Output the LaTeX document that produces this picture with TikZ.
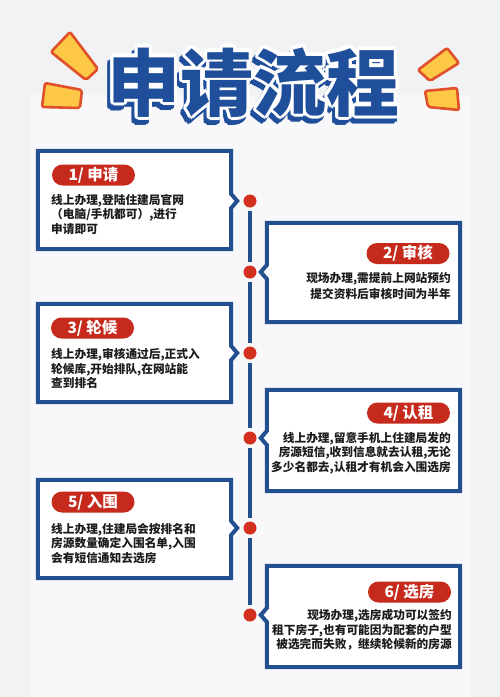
\documentclass[tikz,border=0pt]{standalone}
\usepackage{fontspec}
\newfontfamily\cjk{Noto Sans CJK SC}
\usetikzlibrary{calc}
\definecolor{tblue}{HTML}{1F4E9B}
\definecolor{bblue}{HTML}{22508F}
\definecolor{dotred}{HTML}{D3301F}
\definecolor{pillred}{HTML}{C62A1D}
\definecolor{sunyellow}{HTML}{FCC845}
\definecolor{sunred}{HTML}{E0502A}
\definecolor{bggray}{HTML}{F1F2F4}
\definecolor{panel}{HTML}{F8F8FA}
\definecolor{bodytxt}{HTML}{1C1C1C}
\begin{document}
\begin{tikzpicture}[x=1pt,y=-1pt,
  titletxt/.style={font=\cjk\bfseries\fontsize{73}{73}\selectfont, inner sep=0pt, anchor=base},
  boxnode/.style={inner sep=0pt, minimum width=193pt},
  boxline/.style={draw=bblue, line width=4pt, fill=white, line join=miter},
  dotnode/.style={circle, fill=dotred, minimum size=13pt, inner sep=0pt},
  tline/.style={draw=bblue, line width=4pt, shorten <=3pt, shorten >=3pt},
  pill/.style={fill=pillred, rounded corners=10.5pt, minimum width=83pt, minimum height=21pt, inner sep=0pt, text=white, font=\cjk\bfseries\fontsize{15.5}{15.5}\selectfont},
  bodyL/.style={inner sep=0pt, anchor=west, align=left, text=bodytxt, font=\cjk\bfseries\fontsize{11.7}{14.5}\selectfont},
  bodyR/.style={inner sep=0pt, anchor=east, align=right, text=bodytxt, font=\cjk\bfseries\fontsize{11.7}{14.5}\selectfont},
  sun/.style={fill=sunyellow, draw=sunred, line width=2.6pt, rounded corners=2pt, line join=round}
]
\useasboundingbox (0,0) rectangle (500,697);
\fill[bggray] (0,0) rectangle (500,697);
\fill[panel] (30,95) rectangle (470,697);

% decorations
\draw[sun] (51,52) -- (70,32) -- (98,69) -- (86,80) -- cycle;
\draw[sun] (45,83) -- (82,90) -- (80,108) -- (42,107) -- cycle;
\draw[sun] (418,70) -- (447,48) -- (459,63) -- (430,81) -- cycle;
\draw[sun] (425,91) -- (457,88) -- (459,110) -- (428,107) -- cycle;

% title
\coordinate (tmain) at (253.5,110);
\coordinate (tshadow) at (250.5,115);
\foreach \a [count=\i] in {0,30,...,330}
  \node[titletxt, text=tblue] (ts\i) at ($(tshadow)+(\a:3)$) {申请流程};
\foreach \a [count=\i] in {0,30,...,330}
  \node[titletxt, text=white] (tw\i) at ($(tmain)+(\a:3.2)$) {申请流程};
\node[titletxt, text=tblue] (title) at (tmain) {申请流程};

% dots
\node[dotnode] (d1) at (250,201) {};
\node[dotnode] (d2) at (250,272) {};
\node[dotnode] (d3) at (250,353) {};
\node[dotnode] (d4) at (250,438) {};
\node[dotnode] (d5) at (250,528) {};
\node[dotnode] (d6) at (250,615) {};
\draw[tline] (d1) -- (d2);
\draw[tline] (d2) -- (d3);
\draw[tline] (d3) -- (d4);
\draw[tline] (d4) -- (d5);
\draw[tline] (d5) -- (d6);

% boxes
\node[boxnode, minimum height=98pt] (b1) at (134.5,200) {};
\node[boxnode, minimum height=99pt] (b2) at (363.5,272.5) {};
\node[boxnode, minimum height=98pt] (b3) at (134.5,353) {};
\node[boxnode, minimum height=101pt] (b4) at (363.5,440.5) {};
\node[boxnode, minimum height=98pt] (b5) at (134.5,529) {};
\node[boxnode, minimum height=101pt] (b6) at (363.5,616.5) {};

\foreach \b/\d in {b1/d1,b3/d3,b5/d5}
  \draw[boxline] (\b.north west) -- (\b.north east) -- ($(\b.east |- \d)+(0,-7)$) -- ($(\b.east |- \d)+(6,0)$) -- ($(\b.east |- \d)+(0,7)$) -- (\b.south east) -- (\b.south west) -- cycle;
\foreach \b/\d in {b2/d2,b4/d4,b6/d6}
  \draw[boxline] (\b.north east) -- (\b.north west) -- ($(\b.west |- \d)+(0,-7)$) -- ($(\b.west |- \d)+(-6,0)$) -- ($(\b.west |- \d)+(0,7)$) -- (\b.south west) -- (\b.south east) -- cycle;

% pills
\node[pill] (p1) at (93.5,175) {1/ 申请};
\node[pill] (p2) at (408,253.5) {2/ 审核};
\node[pill] (p3) at (92.5,328) {3/ 轮候};
\node[pill] (p4) at (408.5,413) {4/ 认租};
\node[pill] (p5) at (93,502) {5/ 入围};
\node[pill] (p6) at (409.5,592) {6/ 选房};

% body texts
\node[bodyL] (t1) at (51,214.5) {线上办理,登陆住建局官网\\（电脑/手机都可）,进行\\申请即可};
\node[bodyR, font=\cjk\bfseries\fontsize{11.7}{16}\selectfont] (t2) at (451,286) {现场办理,需提前上网站预约\\提交资料后审核时间为半年};
\node[bodyL] (t3) at (51,368.5) {线上办理,审核通过后,正式入\\轮候库,开始排队,在网站能\\查到排名};
\node[bodyR] (t4) at (451,453) {线上办理,留意手机上住建局发的\\房源短信,收到信息就去认租,无论\\多少名都去,认租才有机会入围选房};
\node[bodyL] (t5) at (51,543.5) {线上办理,住建局会按排名和\\房源数量确定入围名单,入围\\会有短信通知去选房};
\node[bodyR] (t6) at (452,630) {现场办理,选房成功可以签约\\租下房子,也有可能因为配套的户型\\被选完而失败，继续轮候新的房源};
\end{tikzpicture}
\end{document}
